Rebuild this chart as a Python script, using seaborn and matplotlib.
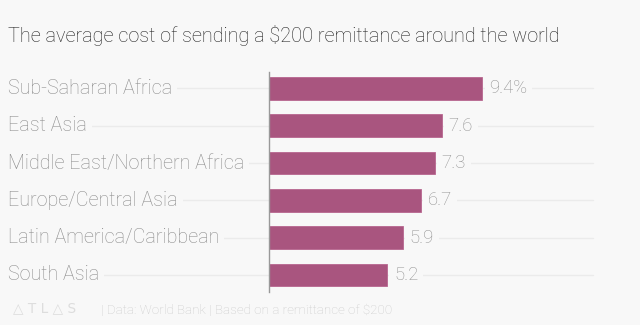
import matplotlib
matplotlib.use("Agg")
import matplotlib.pyplot as plt
import seaborn as sns
import pandas as pd
from matplotlib.patches import Rectangle

regions = ["Sub-Saharan Africa", "East Asia", "Middle East/Northern Africa",
           "Europe/Central Asia", "Latin America/Caribbean", "South Asia"]
costs = [9.4, 7.6, 7.3, 6.7, 5.9, 5.2]
value_labels = ["9.4%", "7.6", "7.3", "6.7", "5.9", "5.2"]
title = "The average cost of sending a $200 remittance around the world"
source = "| Data: World Bank | Based on a remittance of $200"

BG = "#f8f8f8"
sns.set_theme(style="white")
plt.rcParams["font.family"] = ["Roboto", "DejaVu Sans"]

df = pd.DataFrame({"region": regions, "cost": costs})

fig = plt.figure(figsize=(6.4, 3.32), dpi=100, facecolor=BG)
ax = fig.add_axes([269/640, 1-291.7/332, 324/640, (291.7-71.7)/332])
ax.set_facecolor(BG)

sns.barplot(data=df, x="cost", y="region", orient="h", color="#a9557f",
            width=0.61, saturation=1, ax=ax, edgecolor="#b8668f", linewidth=0.6, zorder=3)
ax.set_xlim(0, 14.27)
ax.set_ylim(5.45, -0.45)
ax.set_xlabel("")
ax.set_ylabel("")
ax.set_xticks([])
ax.set_yticks([])
for s in ["top", "right", "bottom"]:
    ax.spines[s].set_visible(False)
ax.spines["left"].set_color("#999999")
ax.spines["left"].set_linewidth(1)
ax.spines["left"].set_zorder(4)

x_left = -(269-8)/324
for i, name in enumerate(regions):
    ax.axhline(i, xmin=x_left, xmax=1, color="#ebebeb", lw=1, clip_on=False, zorder=0)
    ax.text(x_left, i, name, transform=ax.get_yaxis_transform(), ha="left", va="center",
            fontsize=14.2, color="#8c8c8c", fontweight="light", zorder=2,
            bbox=dict(boxstyle="square,pad=0.25", fc=BG, ec="none"))

cont = ax.containers[0]
ax.bar_label(cont, labels=value_labels, padding=5, fontsize=13.4, color="#929292",
             fontweight="light", zorder=5,
             bbox=dict(boxstyle="square,pad=0.25", fc=BG, ec="none"))

fig.text(8/640, 1-35/332, title, fontsize=14.35, color="#222222", fontweight="light",
         ha="left", va="center")
fig.text(13/640, 1-308/332, "△ T L △ S", fontsize=9.8, color="#dddddd", ha="left", va="center",
         family=["DejaVu Sans"])
fig.text(101/640, 1-310/332, source, fontsize=9.6, color="#cccccc", fontweight="light",
         ha="left", va="center")
fig.patches.append(Rectangle((0, 0), 1, 7/332, transform=fig.transFigure, fc="white", ec="none", zorder=0))

fig.savefig("out.png", dpi=100, facecolor=BG)
